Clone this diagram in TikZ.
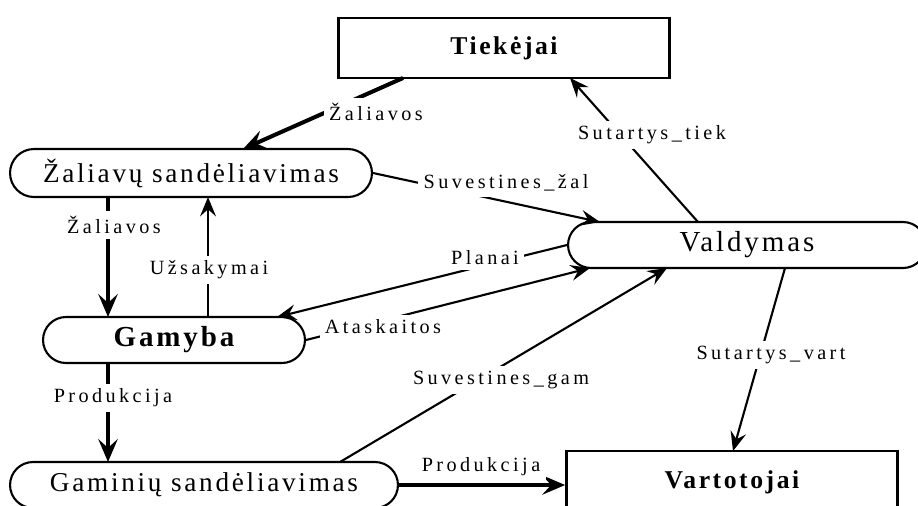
\documentclass[tikz,border=0pt]{standalone}
\usepackage{fontspec}
\setmainfont{Liberation Serif}
\newfontfamily\boxfont[LetterSpace=10]{Liberation Serif}
\newfontfamily\lblfont[LetterSpace=17]{Liberation Serif}
\usetikzlibrary{calc,arrows.meta}
\tikzset{
	proc/.style={draw, line width=1.2pt, rounded corners=0.46cm, inner sep=0pt, minimum height=0.92cm, font=\boxfont\fontsize{15.5}{18}\selectfont},
	ext/.style={draw, line width=1.6pt, inner sep=0pt, font=\boxfont\bfseries\fontsize{14.6}{17}\selectfont},
	lbl/.style={fill=white, inner sep=3pt, font=\lblfont\fontsize{11.5}{13}\selectfont},
	flow/.style={line width=1.2pt, -{Stealth[length=11pt,width=9pt,inset=4pt]}},
	bigflow/.style={line width=2.3pt, -{Stealth[length=13pt,width=11pt,inset=5pt]}},
}

\begin{document}
\begin{tikzpicture}[x=0.02cm, y=-0.02cm]
		%%%%% START %%%%%
		\useasboundingbox (0,0) rectangle (918,505);
		
		\node[ext, minimum width=6.62cm, minimum height=1.2cm] (tiek) at (504,48) {Tiekėjai};
		\node[proc, minimum width=7.24cm, minimum height=0.96cm, rounded corners=0.48cm] (zal) at (191,173) {Žaliavų sandėliavimas};
		\node[proc, minimum width=7.16cm, font=\boxfont\fontsize{16.5}{19}\selectfont] (vald) at (747,245) {Valdymas};
		\node[proc, minimum width=5.24cm, font=\boxfont\bfseries\fontsize{16.5}{19}\selectfont] (gam) at (174,340) {Gamyba};
		\node[proc, minimum width=7.76cm] (gin) at (204,485) {Gaminių sandėliavimas};
		\node[ext, minimum width=6.62cm, minimum height=1.24cm] (vart) at (732,482) {Vartotojai};
		
		\draw[bigflow] ($(tiek)+(-101,30)$) -- ($(zal)+(52,-24)$);
		\draw[flow] ($(vald)+(-49,-23)$) -- ($(tiek)+(66,30)$);
		\draw[flow] (zal.east) -- ($(vald)+(-147,-23)$);
		
		\draw[bigflow] ($(zal)+(-83,24)$) -- ($(gam)+(-66,-23)$);
		\draw[flow] ($(gam)+(34,-23)$) -- ($(zal)+(17,24)$);
		
		\draw[flow] (vald.west) -- ($(gam)+(103,-23)$);
		\draw[flow] (gam.east) -- ($(vald)+(-157,23)$);
		\draw[flow] ($(gin)+(136,-23)$) -- ($(vald)+(-80,23)$);
		
		\draw[bigflow] ($(gam)+(-66,23)$) -- ($(gin)+(-96,-23)$);
		\draw[bigflow] (gin.east) -- (gin.east -| vart.west);
		\draw[flow] ($(vald)+(38,23)$) -- ($(vart)+(1,-31)$);
		
		% labels over the lines
		\node[lbl] (l-zal1) at (376,112) {Žaliavos};
		\node[lbl] (l-stiek) at (652,135) {Sutartys\_tiek};
		\node[lbl] (l-svzal) at (506,183) {Suvestines\_žal};
		\node[lbl] (l-zal2) at (114,225) {Žaliavos};
		\node[lbl] (l-uzs) at (209,270) {Užsakymai};
		\node[lbl] (l-plan) at (485,258) {Planai};
		\node[lbl] (l-atas) at (383,327) {Ataskaitos};
		\node[lbl] (l-svgam) at (501,380) {Suvestines\_gam};
		\node[lbl] (l-prod1) at (113,398) {Produkcija};
		\node[lbl] (l-prod2) at (481,467) {Produkcija};
		\node[lbl] (l-svart) at (771,355) {Sutartys\_vart};
		%%%%% END %%%%%
\end{tikzpicture}
\end{document}
